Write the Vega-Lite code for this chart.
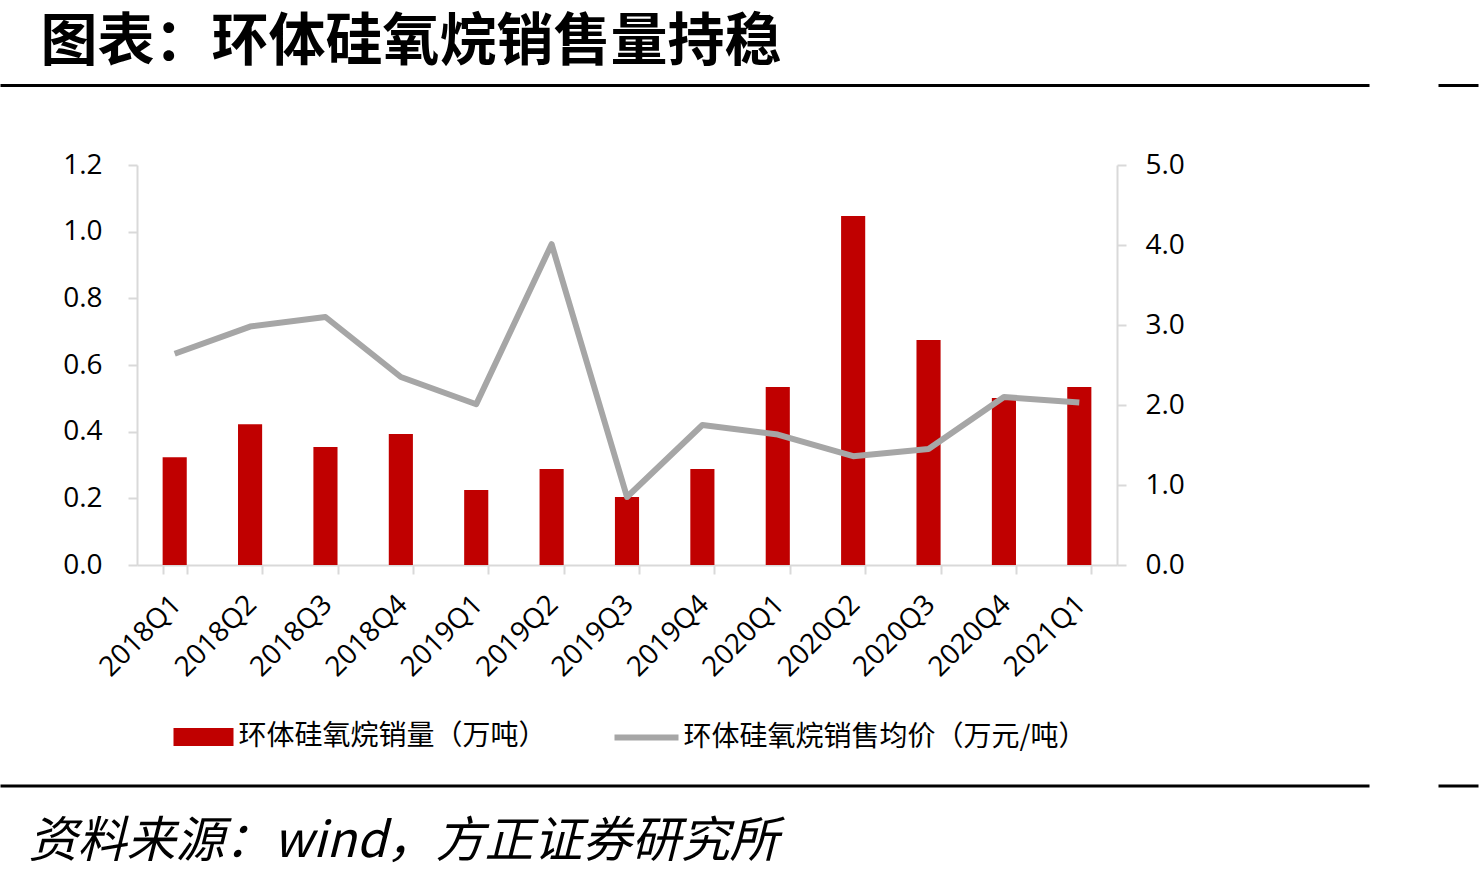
{
  "$schema": "https://vega.github.io/schema/vega-lite/v6.json",
  "background": "white",
  "padding": {"left": 0, "top": 12.5, "right": 0, "bottom": 6},
  "config": {
    "view": {"stroke": null},
    "axis": {
      "labelFont": "Open Sans, Noto Sans CJK SC",
      "labelFontSize": 28,
      "labelColor": "#000000",
      "domainColor": "#d9d9d9",
      "domainWidth": 2,
      "tickColor": "#d9d9d9",
      "tickWidth": 2,
      "tickSize": 9,
      "grid": false
    },
    "legend": {
      "labelFont": "Noto Sans CJK SC",
      "labelFontSize": 28,
      "labelColor": "#000000",
      "labelLimit": 600,
      "padding": 0,
      "title": null
    },
    "title": {"color": "#000000"}
  },
  "bounds": "flush",
  "spacing": 79.5,
  "vconcat": [
    {
      "bounds": "flush",
      "spacing": 72,
      "hconcat": [
        {
          "width": 1366,
          "height": 0.01,
          "view": {"stroke": "#000000", "strokeWidth": 3},
          "title": {
            "text": "图表：环体硅氧烷销售量持稳",
            "anchor": "start",
            "frame": "group",
            "orient": "top",
            "dx": 38.5,
            "offset": 13.5,
            "font": "Noto Sans CJK SC",
            "fontSize": 57,
            "fontWeight": "bold"
          },
          "data": {"values": []},
          "mark": "text",
          "encoding": {}
        },
        {
          "width": 37,
          "height": 0.01,
          "view": {"stroke": "#000000", "strokeWidth": 3},
          "data": {"values": []},
          "mark": "text",
          "encoding": {}
        }
      ]
    },
    {
      "bounds": "flush",
      "spacing": 621,
      "vconcat": [
        {
          "bounds": "flush",
          "spacing": 0,
          "hconcat": [
            {
              "width": 134.5,
              "height": 400,
              "data": {"values": []},
              "mark": "text",
              "encoding": {}
            },
            {
              "width": 980,
              "height": 400,
              "data": {
                "values": [
                  {"quarter": "2018Q1", "volume": 0.323, "price": 2.64},
                  {"quarter": "2018Q2", "volume": 0.422, "price": 2.98},
                  {"quarter": "2018Q3", "volume": 0.354, "price": 3.10},
                  {"quarter": "2018Q4", "volume": 0.393, "price": 2.35},
                  {"quarter": "2019Q1", "volume": 0.225, "price": 2.01},
                  {"quarter": "2019Q2", "volume": 0.288, "price": 4.01},
                  {"quarter": "2019Q3", "volume": 0.204, "price": 0.85},
                  {"quarter": "2019Q4", "volume": 0.288, "price": 1.75},
                  {"quarter": "2020Q1", "volume": 0.534, "price": 1.63},
                  {"quarter": "2020Q2", "volume": 1.047, "price": 1.36},
                  {"quarter": "2020Q3", "volume": 0.675, "price": 1.45},
                  {"quarter": "2020Q4", "volume": 0.501, "price": 2.10},
                  {"quarter": "2021Q1", "volume": 0.534, "price": 2.03}
                ]
              },
              "encoding": {
                "x": {
                  "field": "quarter",
                  "type": "nominal",
                  "sort": null,
                  "scale": {"paddingInner": 0.68, "paddingOuter": 0.34},
                  "axis": {
                    "title": null,
                    "labelAngle": -45,
                    "labelAlign": "right",
                    "labelBaseline": "top",
                    "labelPadding": 16,
                    "labelOffset": -8,
                    "labelOverlap": false,
                    "tickBand": "extent"
                  }
                }
              },
              "layer": [
                {
                  "mark": {"type": "bar"},
                  "encoding": {
                    "y": {
                      "field": "volume",
                      "type": "quantitative",
                      "scale": {"domain": [0, 1.2], "nice": false},
                      "axis": {
                        "orient": "left",
                        "title": null,
                        "values": [0, 0.2, 0.4, 0.6, 0.8, 1.0, 1.2],
                        "format": ".1f",
                        "labelPadding": 26
                      }
                    },
                    "fill": {
                      "datum": "环体硅氧烷销量（万吨）",
                      "scale": {"range": ["#c00000"]},
                      "legend": {
                        "orient": "none",
                        "legendX": 171.5,
                        "legendY": 621.5,
                        "symbolType": "M-1,-0.3H1V0.3H-1Z",
                        "symbolSize": 3600,
                        "symbolStrokeWidth": 0,
                        "labelOffset": 5
                      }
                    }
                  }
                },
                {
                  "mark": {"type": "line", "strokeWidth": 6, "strokeJoin": "round"},
                  "encoding": {
                    "y": {
                      "field": "price",
                      "type": "quantitative",
                      "scale": {"domain": [0, 5], "nice": false},
                      "axis": {
                        "orient": "right",
                        "title": null,
                        "values": [0, 1, 2, 3, 4, 5],
                        "format": ".1f",
                        "labelPadding": 19
                      }
                    },
                    "stroke": {
                      "datum": "环体硅氧烷销售均价（万元/吨）",
                      "scale": {"range": ["#a6a6a6"]},
                      "legend": {
                        "orient": "none",
                        "legendX": 609.5,
                        "legendY": 617,
                        "symbolType": "stroke",
                        "symbolSize": 4096,
                        "symbolStrokeWidth": 6,
                        "labelOffset": 2
                      }
                    }
                  }
                }
              ],
              "resolve": {"scale": {"y": "independent"}}
            }
          ]
        },
        {
          "bounds": "flush",
          "spacing": 72,
          "hconcat": [
            {
              "width": 1366,
              "height": 0.01,
              "view": {"stroke": "#000000", "strokeWidth": 3},
              "title": {
                "text": "资料来源：wind，方正证券研究所",
                "anchor": "start",
                "frame": "group",
                "orient": "bottom",
                "baseline": "top",
                "dx": 26.5,
                "offset": 32,
                "font": "Noto Sans CJK SC",
                "fontSize": 49,
                "fontStyle": "italic",
                "fontWeight": "normal"
              },
              "data": {"values": []},
              "mark": "text",
              "encoding": {}
            },
            {
              "width": 37,
              "height": 0.01,
              "view": {"stroke": "#000000", "strokeWidth": 3},
              "data": {"values": []},
              "mark": "text",
              "encoding": {}
            }
          ]
        }
      ]
    }
  ]
}
